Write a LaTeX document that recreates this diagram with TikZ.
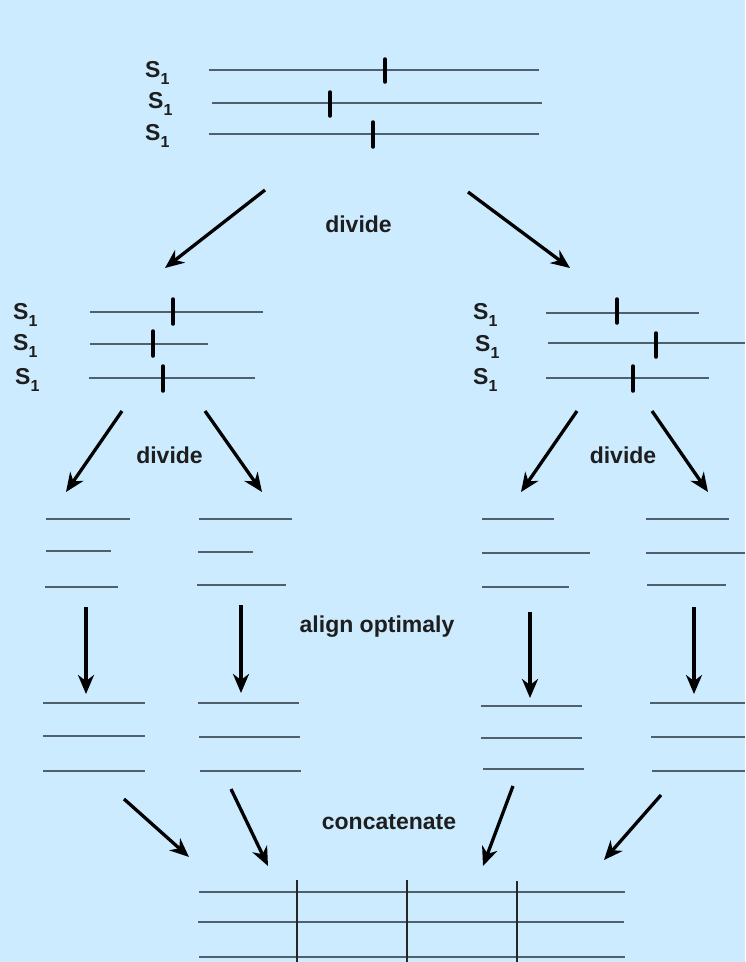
\documentclass[tikz,border=0pt]{standalone}
\usepackage{fontspec}
\setmainfont{Liberation Sans}
\usetikzlibrary{arrows.meta}
\definecolor{bg}{RGB}{204,235,255}
\definecolor{seqline}{RGB}{80,95,108}
\definecolor{txt}{RGB}{30,30,30}
\newcommand{\Sone}{S\raisebox{-7pt}{\fontsize{16}{16}\selectfont 1}}
\tikzset{
  seq/.style={draw=seqline, line width=2.2pt},
  cutmark/.style={draw=black, line width=3.5pt, line cap=round},
  gridv/.style={draw=black!85, line width=1.5pt},
  arr/.style={draw=black, line width=3.3pt, -{Stealth[length=19pt,width=16pt,inset=6pt]}},
  lbl/.style={anchor=base, inner sep=0pt, text=txt, font=\bfseries\fontsize{23}{26}\selectfont},
  slab/.style={anchor=base west, inner sep=0pt, text=txt, font=\bfseries\fontsize{23}{25}\selectfont},
}
\begin{document}
\begin{tikzpicture}[x=1pt,y=-1pt]
\fill[bg] (0,0) rectangle (745,962);
\useasboundingbox (0,0) rectangle (745,962);

% ---------- top group ----------
\node[slab] (t1) at (145,77) {\Sone};
\node[slab] (t2) at (148,108) {\Sone};
\node[slab] (t3) at (145,140) {\Sone};
\draw[seq] (209,70) -- (539,70);
\draw[seq] (212,103) -- (542,103);
\draw[seq] (209,134) -- (539,134);
\draw[cutmark] (385,59) -- (385,82);
\draw[cutmark] (330,92) -- (330,116);
\draw[cutmark] (373,122) -- (373,147);

\node[lbl] (div1) at (358.5,232) {divide};
\coordinate (a1s) at (265,190); \coordinate (a1e) at (165,268);
\coordinate (a2s) at (468,192); \coordinate (a2e) at (570,268);
\draw[arr] (a1s) -- (a1e);
\draw[arr] (a2s) -- (a2e);

% ---------- middle left group ----------
\node[slab] (l1) at (13,319) {\Sone};
\node[slab] (l2) at (13,350) {\Sone};
\node[slab] (l3) at (15,384) {\Sone};
\draw[seq] (90,312) -- (263,312);
\draw[seq] (90,344) -- (208,344);
\draw[seq] (89,378) -- (255,378);
\draw[cutmark] (173,299) -- (173,324);
\draw[cutmark] (153,331) -- (153,356);
\draw[cutmark] (163,366) -- (163,391);

% ---------- middle right group ----------
\node[slab] (r1) at (473,319) {\Sone};
\node[slab] (r2) at (475,351) {\Sone};
\node[slab] (r3) at (473,384) {\Sone};
\draw[seq] (546,313) -- (699,313);
\draw[seq] (548,343) -- (745,343);
\draw[seq] (546,378) -- (709,378);
\draw[cutmark] (617,299) -- (617,323);
\draw[cutmark] (656,333) -- (656,357);
\draw[cutmark] (633,366) -- (633,391);

\node[lbl] (div2) at (169.5,463) {divide};
\node[lbl] (div3) at (623,463) {divide};
\coordinate (b1s) at (122,411); \coordinate (b1e) at (66,492);
\coordinate (b2s) at (205,411); \coordinate (b2e) at (262,492);
\coordinate (b3s) at (577,411); \coordinate (b3e) at (521,492);
\coordinate (b4s) at (652,411); \coordinate (b4e) at (708,492);
\draw[arr] (b1s) -- (b1e);
\draw[arr] (b2s) -- (b2e);
\draw[arr] (b3s) -- (b3e);
\draw[arr] (b4s) -- (b4e);

% ---------- split pieces ----------
\draw[seq] (46,519) -- (130,519);
\draw[seq] (46,551) -- (111,551);
\draw[seq] (45,587) -- (118,587);

\draw[seq] (199,519) -- (292,519);
\draw[seq] (198,552) -- (253,552);
\draw[seq] (197,585) -- (286,585);

\draw[seq] (482,519) -- (554,519);
\draw[seq] (482,553) -- (590,553);
\draw[seq] (482,587) -- (569,587);

\draw[seq] (646,519) -- (729,519);
\draw[seq] (646,553) -- (745,553);
\draw[seq] (647,585) -- (726,585);

\node[lbl] (align) at (377,632) {align optimaly};
\coordinate (c1s) at (86,607);  \coordinate (c1e) at (86,694);
\coordinate (c2s) at (241,605); \coordinate (c2e) at (241,693);
\coordinate (c3s) at (530,612); \coordinate (c3e) at (530,698);
\coordinate (c4s) at (694,607); \coordinate (c4e) at (694,694);
\draw[arr] (c1s) -- (c1e);
\draw[arr] (c2s) -- (c2e);
\draw[arr] (c3s) -- (c3e);
\draw[arr] (c4s) -- (c4e);

% ---------- aligned pieces ----------
\draw[seq] (43,703) -- (145,703);
\draw[seq] (43,736) -- (145,736);
\draw[seq] (43,771) -- (145,771);

\draw[seq] (198,703) -- (299,703);
\draw[seq] (199,737) -- (300,737);
\draw[seq] (200,771) -- (301,771);

\draw[seq] (481,706) -- (582,706);
\draw[seq] (481,738) -- (582,738);
\draw[seq] (483,769) -- (584,769);

\draw[seq] (650,703) -- (745,703);
\draw[seq] (651,737) -- (745,737);
\draw[seq] (652,771) -- (745,771);

\node[lbl] (concat) at (389,829) {concatenate};
\coordinate (d1s) at (124,799); \coordinate (d1e) at (189,857);
\coordinate (d2s) at (231,789); \coordinate (d2e) at (268,866);
\coordinate (d3s) at (513,786); \coordinate (d3e) at (483,866);
\coordinate (d4s) at (661,795); \coordinate (d4e) at (604,860);
\draw[arr] (d1s) -- (d1e);
\draw[arr] (d2s) -- (d2e);
\draw[arr] (d3s) -- (d3e);
\draw[arr] (d4s) -- (d4e);

% ---------- concatenated result ----------
\draw[seq, line width=2.6pt] (199,892) -- (625,892);
\draw[seq, line width=2.6pt] (198,922) -- (624,922);
\draw[seq, line width=2.6pt] (199,957) -- (625,957);
\draw[gridv] (297,880) -- (297,962);
\draw[gridv] (407,880) -- (407,962);
\draw[gridv] (517,881) -- (517,962);
\end{tikzpicture}
\end{document}
